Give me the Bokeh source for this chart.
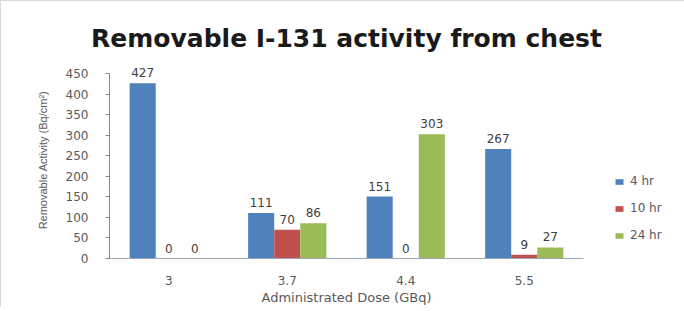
from bokeh.plotting import figure
from bokeh.models import (ColumnDataSource, FactorRange, Range1d, SingleIntervalTicker,
                          LabelSet, Legend, LegendItem)
from bokeh.core.properties import value
from bokeh.transform import dodge
from bokeh.embed import file_html
from bokeh.resources import INLINE

doses = ["3", "3.7", "4.4", "5.5"]
hr4 = [427, 111, 151, 267]
hr10 = [0, 70, 0, 9]
hr24 = [0, 86, 303, 27]
series_names = ["4 hr", "10 hr", "24 hr"]
colors = ["#4F81BD", "#C0504D", "#9BBB59"]
y_max_tick = 450

src = ColumnDataSource(dict(
    dose=doses, hr4=hr4, hr10=hr10, hr24=hr24,
    l4=[str(v) for v in hr4], l10=[str(v) for v in hr10], l24=[str(v) for v in hr24],
))

FONT = "DejaVu Sans"

p = figure(x_range=FactorRange(*doses), y_range=Range1d(0, 480),
           frame_width=474, frame_height=197, output_backend="svg", toolbar_location=None,
           min_border_left=108, min_border_right=80, min_border_top=60, min_border_bottom=8)
p.styles = {"border-left": "1px solid #d9d9d9", "border-top": "1px solid #d9d9d9"}

p.title.text = "Removable I-131 activity from chest"
p.title.text_font = FONT
p.title.text_font_style = "bold"
p.title.text_font_size = "25px"
p.title.text_color = "#1a1a1a"
p.title.align = "center"
p.title.standoff = 17

w = 0.22
renderers = []
for key, lab, off, c in [("hr4", "l4", -w, colors[0]),
                         ("hr10", "l10", 0.0, colors[1]),
                         ("hr24", "l24", w, colors[2])]:
    r = p.vbar(x=dodge("dose", off, range=p.x_range), top=key, width=w, source=src,
               fill_color=c, line_color=None)
    renderers.append(r)
    ls = LabelSet(x=dodge("dose", off, range=p.x_range), y=key, text=lab, source=src,
                  text_align="center", text_baseline="bottom", y_offset=6,
                  text_font_size="12px", text_color="#404040", text_font=value(FONT))
    p.add_layout(ls)

p.xgrid.grid_line_color = None
p.ygrid.grid_line_color = None
p.outline_line_color = None

p.yaxis.ticker = SingleIntervalTicker(interval=50)
p.yaxis.bounds = (0, y_max_tick)
p.yaxis.minor_tick_line_color = None
p.yaxis.major_tick_in = 0
p.yaxis.major_tick_out = 4
p.yaxis.axis_line_color = "#868686"
p.yaxis.major_tick_line_color = "#868686"
p.yaxis.major_label_text_font = FONT
p.yaxis.major_label_text_font_size = "12px"
p.yaxis.major_label_text_color = "#595959"
p.yaxis.major_label_standoff = 17
p.yaxis.axis_label = "Removable Activity (Bq/cm²)"
p.yaxis.axis_label_text_font = "Liberation Sans"
p.yaxis.axis_label_text_font_style = "normal"
p.yaxis.axis_label_text_font_size = "11px"
p.yaxis.axis_label_text_color = "#595959"
p.yaxis.axis_label_standoff = 14

p.xaxis.axis_line_color = "#9aa6b8"
p.xaxis.major_tick_line_color = None
p.xaxis.minor_tick_line_color = None
p.xaxis.major_label_text_font = FONT
p.xaxis.major_label_text_font_size = "12px"
p.xaxis.major_label_text_color = "#595959"
p.xaxis.major_label_standoff = 11
p.xaxis.axis_label = "Administrated Dose (GBq)"
p.xaxis.axis_label_text_font = FONT
p.xaxis.axis_label_text_font_style = "normal"
p.xaxis.axis_label_text_font_size = "13px"
p.xaxis.axis_label_text_color = "#595959"
p.xaxis.axis_label_standoff = 2

legend = Legend(items=[LegendItem(label=n, renderers=[r]) for n, r in zip(series_names, renderers)],
                location=(31, 16), padding=0, margin=0, spacing=13,
                glyph_width=10, glyph_height=7, label_height=12, label_standoff=6,
                label_text_font=FONT, label_text_font_size="12px", label_text_color="#595959",
                background_fill_alpha=0, border_line_color=None)
p.add_layout(legend, "right")

open("out.html", "w").write(file_html(p, INLINE))
